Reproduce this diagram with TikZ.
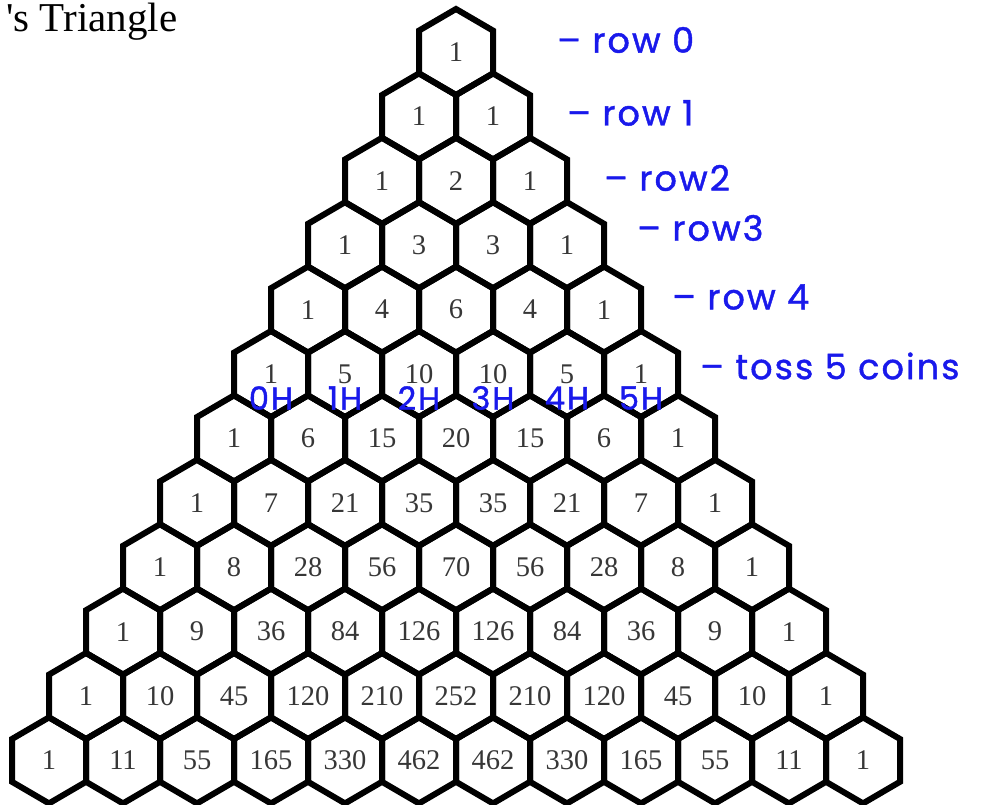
\documentclass[tikz,border=0pt]{standalone}
\usepackage{fontspec}
\setmainfont{Liberation Serif}
\newfontfamily\handfont[LetterSpace=6,FakeBold=1.2]{Poppins}
\usepackage{tikz}

\definecolor{inkblue}{RGB}{25,25,235}
\definecolor{numgray}{RGB}{55,55,55}

\tikzset{
  hexline/.style={line width=6pt, line join=miter},
  num/.style={text=numgray, font=\fontsize{28.5}{28.5}\selectfont, inner sep=0pt},
  rowtag/.style={text=inkblue, font=\handfont\fontsize{35}{35}\selectfont, anchor=west, inner sep=0pt},
  headtag/.style={text=inkblue, font=\handfont\fontsize{32}{32}\selectfont, inner sep=0pt},
}

% one cell of the triangle, around a number node
\newcommand{\hexcell}[1]{%
  \draw[hexline] (#1.center) ++(0,-43) -- ++(37,21.6) -- ++(0,42.8)
    -- ++(-37,21.6) -- ++(-37,-21.6) -- ++(0,-42.8) -- cycle;}

\begin{document}
\begin{tikzpicture}[x=1pt,y=-1pt]
\useasboundingbox (0,0) rectangle (983,805);

% Titel (abgeschnitten)
\node[anchor=base west, inner sep=0pt, font=\fontsize{41}{41}\selectfont] (title) at (6,32) {\textquotesingle s Triangle};

% Zahlen und Waben
\foreach \vals [count=\row from 0] in {{1},{1,1},{1,2,1},{1,3,3,1},{1,4,6,4,1},
    {1,5,10,10,5,1},{1,6,15,20,15,6,1},{1,7,21,35,35,21,7,1},
    {1,8,28,56,70,56,28,8,1},{1,9,36,84,126,126,84,36,9,1},
    {1,10,45,120,210,252,210,120,45,10,1},
    {1,11,55,165,330,462,462,330,165,55,11,1}} {
  \foreach \val [count=\col from 0] in \vals {
    \pgfmathsetmacro{\cx}{456+(\col-\row/2)*74}
    \pgfmathsetmacro{\cy}{52+\row*64.4}
    \node[num] (p-\row-\col) at (\cx,\cy) {\val};
    \hexcell{p-\row-\col}
  }
}

% Notizen rechts
\node[rowtag] (r0) at (557,40) {– row 0};
\node[rowtag] (r1) at (567,113) {– row 1};
\node[rowtag] (r2) at (604,178) {– row2};
\node[rowtag] (r3) at (637,228) {– row3};
\node[rowtag] (r4) at (672,297) {– row 4};
\node[rowtag] (r5) at (700,366) {– toss 5 coins};

% Kopf-Zahlen unter Zeile 5
\foreach \col in {0,...,5}
  \node[headtag] (h\col) at ([yshift=-24pt]p-5-\col.center) {\col H};

\end{tikzpicture}
\end{document}
